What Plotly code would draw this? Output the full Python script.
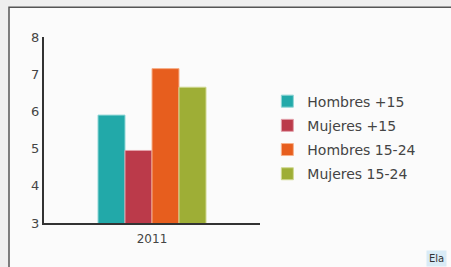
import plotly.graph_objects as go

categories = ["2011"]
series_names = ["Hombres +15", "Mujeres +15", "Hombres 15-24", "Mujeres 15-24"]
hombres_15 = [5.9]
mujeres_15 = [4.95]
hombres_15_24 = [7.15]
mujeres_15_24 = [6.65]
y_ticks = [3, 4, 5, 6, 7, 8]

values = [hombres_15, mujeres_15, hombres_15_24, mujeres_15_24]
colors = ["#22a9a9", "#bb3a4a", "#e75e1e", "#9eae36"]
edge = ["#8fd6d6", "#e2a0aa", "#f7b08a", "#d0d890"]

fig = go.Figure()
for name, vals, c, e in zip(series_names, values, colors, edge):
    fig.add_trace(go.Bar(
        x=categories, y=vals, name=name, legendgroup=name,
        marker=dict(color=c, line=dict(color=e, width=1)),
        base=0,
    ))

fig.update_layout(
    width=451, height=267,
    margin=dict(l=44, r=191, t=37, b=44),
    paper_bgcolor="#efefef",
    plot_bgcolor="rgba(0,0,0,0)",
    barmode="group", bargap=0.5, bargroupgap=0,
    font=dict(family="DejaVu Sans", size=12, color="#444"),
    showlegend=True,
    legend=dict(x=1.034, y=0.739, xanchor="left", yanchor="top",
                bgcolor="rgba(0,0,0,0)", font=dict(size=14, color="#444"),
                traceorder="grouped", tracegroupgap=3, itemwidth=30),
    xaxis=dict(showline=True, linecolor="#333", linewidth=2, showgrid=False,
               ticks="", ticklabelstandoff=4, tickfont=dict(size=12, color="#444")),
    yaxis=dict(range=[3, 8], tickvals=y_ticks, showline=True, linecolor="#333",
               linewidth=2, showgrid=False, zeroline=False, ticks="",
               tickfont=dict(size=13, color="#444")),
    shapes=[dict(type="rect", xref="paper", yref="paper", layer="below",
                 x0=-35/216, x1=1.9, y0=-0.3, y1=1.16,
                 fillcolor="#fbfbfb", line=dict(color="#555", width=1.5))],
    annotations=[dict(text="Ela", xref="paper", yref="paper", x=(426-44)/216,
                      y=(223-258)/186, xanchor="left", yanchor="middle",
                      showarrow=False, bgcolor="#d9ebf6", borderpad=2,
                      font=dict(size=10, color="#333"))],
)

fig.write_html("out.html", config={"displayModeBar": False},
               post_script="document.body.style.margin='0';"
                           "document.body.style.background='#efefef';")
